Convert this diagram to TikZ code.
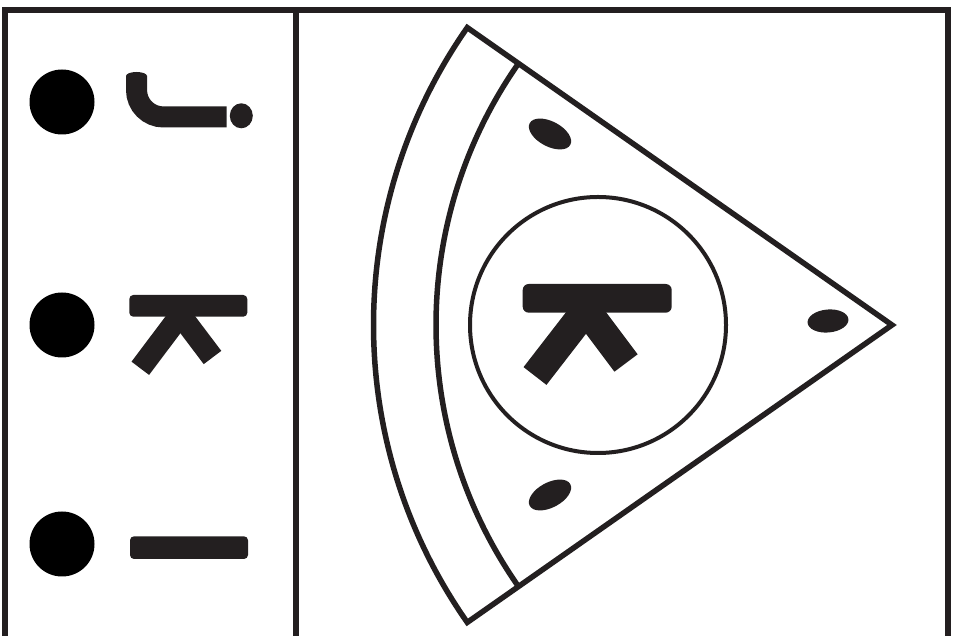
\documentclass[tikz,border=0pt]{standalone}
\usetikzlibrary{calc}
\definecolor{ink}{HTML}{231F20}
\tikzset{
  frameline/.style={draw=ink,line width=6pt,line join=miter},
  sectorline/.style={draw=ink,line width=5.5pt,line join=miter},
  thinring/.style={draw=ink,line width=4pt},
  bullet/.style={fill=black},
  stroke21/.style={draw=ink,line width=21pt,line cap=butt},
  legsmall/.style={draw=ink,line width=22pt,line cap=butt},
  bigleg/.style={draw=ink,line width=29pt,line cap=butt},
  barfill/.style={fill=ink,rounded corners=4pt},
  speck/.style={fill=ink}
}
\begin{document}
\begin{tikzpicture}[x=1pt,y=1pt]
\useasboundingbox (0,0) rectangle (955,636);
\clip (0,0) rectangle (955,636);
\fill[white] (0,0) rectangle (955,636);
% frame
\draw[frameline] (4.5,-10) -- (4.5,626) -- (948,626) -- (948,-10);
\draw[frameline] (295.5,626) -- (295.5,-10);
% left column bullets
\fill[bullet] (62,534) circle[radius=32.5];
\fill[bullet] (62,311) circle[radius=32.5];
\fill[bullet] (62,92) circle[radius=32.5];
% glyph 1 (hook with dot)
\draw[stroke21] (136.5,560) -- (136.5,546) arc[start angle=180,end angle=270,radius=27] -- (226.7,519);
\fill[ink] (136.5,560) ellipse[x radius=10.5,y radius=4];
\fill[speck] (241.3,520.2) ellipse[x radius=11.5,y radius=12.5];
% glyph 2 (left)
\draw[legsmall] (189,332.5) -- (140.3,267.7);
\draw[legsmall] (171.7,332.5) -- (212.5,278.5);
\fill[barfill] (129.3,319.3) rectangle (247.3,341);
% glyph 3
\fill[barfill] (130,77) rectangle (248,99.7);
% sector
\coordinate (apex) at (892,311);
\draw[sectorline] (apex) -- ++(145:518.5) arc[start angle=145,end angle=215,radius=518.5] -- cycle;
\draw[sectorline] ($(apex)+(145:456)$) arc[start angle=145,end angle=215,radius=456];
% ring
\draw[thinring] (598,311) circle[radius=128];
% glyph in ring
\draw[bigleg] (592.2,333.9) -- (535,260);
\draw[bigleg] (578,337) -- (626,273);
\fill[barfill,rounded corners=6pt] (522.7,323.3) rectangle (671.7,352);
% specks
\fill[speck] (550,502) ellipse[x radius=23,y radius=12.5,rotate=-28];
\fill[speck] (550,141) ellipse[x radius=23,y radius=12.5,rotate=28];
\fill[speck] (828,315) ellipse[x radius=20.5,y radius=11.5,rotate=5];
\end{tikzpicture}
\end{document}
